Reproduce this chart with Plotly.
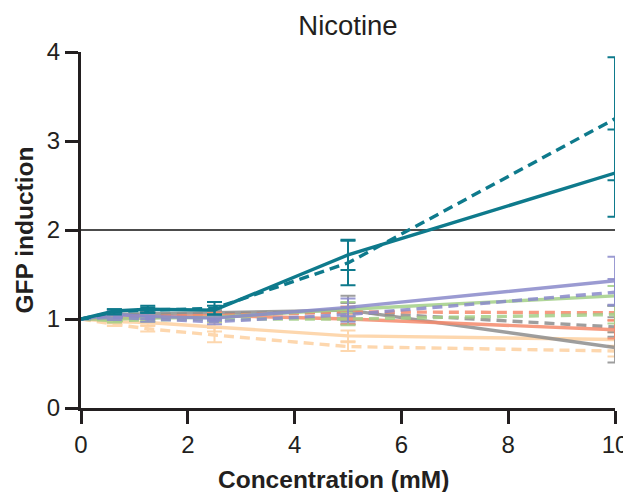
import plotly.graph_objects as go

conc = [0, 0.625, 1.25, 2.5, 5, 10]

peach_solid = [1.00, 0.97, 0.96, 0.91, 0.81, 0.77]
peach_solid_err = [0, 0.02, 0.03, 0.05, 0.06, 0.08]
peach_dashed = [1.00, 0.94, 0.89, 0.82, 0.69, 0.64]
peach_dashed_err = [0, 0.02, 0.03, 0.08, 0.05, 0.06]
gray_solid = [1.00, 1.05, 1.06, 1.07, 1.10, 0.68]
gray_solid_err = [0, 0.03, 0.03, 0.04, 0.16, 0.17]
gray_dashed = [1.00, 1.04, 1.05, 1.06, 1.08, 0.91]
gray_dashed_err = [0, 0.03, 0.03, 0.03, 0.10, 0.11]
salmon_solid = [1.00, 1.01, 1.02, 1.04, 1.00, 0.88]
salmon_solid_err = [0, 0.02, 0.02, 0.03, 0.06, 0.10]
salmon_dashed = [1.00, 1.02, 1.03, 1.04, 1.08, 1.07]
salmon_dashed_err = [0, 0.02, 0.02, 0.03, 0.06, 0.08]
green_solid = [1.00, 1.00, 1.01, 1.02, 1.11, 1.26]
green_solid_err = [0, 0.02, 0.03, 0.03, 0.08, 0.11]
green_dashed = [1.00, 0.98, 0.99, 1.00, 1.00, 1.05]
green_dashed_err = [0, 0.02, 0.02, 0.03, 0.07, 0.10]
purple_solid = [1.00, 1.05, 1.03, 1.01, 1.13, 1.43]
purple_solid_err = [0, 0.04, 0.03, 0.03, 0.10, 0.27]
purple_dashed = [1.00, 1.02, 1.00, 0.97, 1.05, 1.30]
purple_dashed_err = [0, 0.03, 0.03, 0.03, 0.08, 0.15]
teal_solid = [1.00, 1.09, 1.11, 1.10, 1.72, 2.64]
teal_solid_err = [0, 0.02, 0.04, 0.05, 0.17, 0.49]
teal_dashed = [1.00, 1.08, 1.10, 1.12, 1.63, 3.25]
teal_dashed_err = [0, 0.03, 0.03, 0.07, 0.25, 0.69]

PEACH = "#fdd3a6"
GRAY = "#8e8e8e"
SALMON = "#f58a6c"
GREEN = "#a3cf88"
PURPLE = "#8a8acb"
TEAL = "#0e7a8c"

series = [
    ("peach", PEACH, False, peach_solid, peach_solid_err, 0.9),
    ("peach dashed", PEACH, True, peach_dashed, peach_dashed_err, 0.9),
    ("gray dashed", GRAY, True, gray_dashed, gray_dashed_err, 0.85),
    ("gray", GRAY, False, gray_solid, gray_solid_err, 0.85),
    ("salmon", SALMON, False, salmon_solid, salmon_solid_err, 0.85),
    ("salmon dashed", SALMON, True, salmon_dashed, salmon_dashed_err, 0.85),
    ("green dashed", GREEN, True, green_dashed, green_dashed_err, 0.85),
    ("green", GREEN, False, green_solid, green_solid_err, 0.85),
    ("purple dashed", PURPLE, True, purple_dashed, purple_dashed_err, 0.85),
    ("purple", PURPLE, False, purple_solid, purple_solid_err, 0.85),
    ("teal dashed", TEAL, True, teal_dashed, teal_dashed_err, 1.0),
    ("teal", TEAL, False, teal_solid, teal_solid_err, 1.0),
]

fig = go.Figure()
for name, color, dashed, vals, errs, op in series:
    fig.add_trace(go.Scatter(
        x=conc, y=vals, mode="lines", name=name, opacity=op,
        line=dict(color=color, width=3.4, dash="10px,6px" if dashed else "solid"),
        error_y=dict(type="data", array=errs, visible=True, color=color,
                     thickness=2, width=7.5),
        showlegend=False, cliponaxis=False,
    ))

fig.add_shape(type="line", xref="x", yref="y", x0=0, x1=10, y0=2, y1=2,
              line=dict(color="#111111", width=1.5), layer="below")

# page body has an 8px default margin; figure is sized/offset to compensate
W, H = 623, 484
ML, MR, MT, MB = 73, 16, 44, 84
font_family = "Arial, Liberation Sans, sans-serif"
plot_w = W - ML - MR
plot_h = H - MT - MB

fig.add_annotation(
    text="<b>Concentration (mM)</b>", xref="paper", yref="paper",
    x=(325 - ML) / plot_w, y=-(471 - (H - MB)) / plot_h,
    xanchor="center", yanchor="middle", showarrow=False, borderpad=0,
    font=dict(size=24.5, family=font_family, color="#231f20"),
)

fig.update_layout(
    width=W, height=H,
    margin=dict(l=ML, r=MR, t=MT, b=MB),
    paper_bgcolor="white", plot_bgcolor="white",
    font=dict(family=font_family, color="#231f20"),
    title=dict(text="Nicotine", x=0.5, xanchor="center", xref="paper",
               y=1 - 17 / H, yanchor="middle",
               font=dict(size=27.5, family=font_family, color="#231f20")),
    xaxis=dict(range=[0, 10], tickvals=[0, 2, 4, 6, 8, 10],
               showgrid=False, zeroline=False, showline=True,
               linecolor="#231f20", linewidth=3, automargin=False,
               ticks="outside", ticklen=13, tickwidth=3, tickcolor="#231f20",
               tickfont=dict(size=24)),
    yaxis=dict(range=[0, 4], tickvals=[0, 1, 2, 3, 4],
               showgrid=False, zeroline=False, showline=True,
               linecolor="#231f20", linewidth=3, automargin=False,
               ticks="outside", ticklen=13, tickwidth=3, tickcolor="#231f20",
               tickfont=dict(size=24),
               title=dict(text="<b>GFP induction</b>", font=dict(size=24.5), standoff=7)),
)

fig.write_html("out.html")
